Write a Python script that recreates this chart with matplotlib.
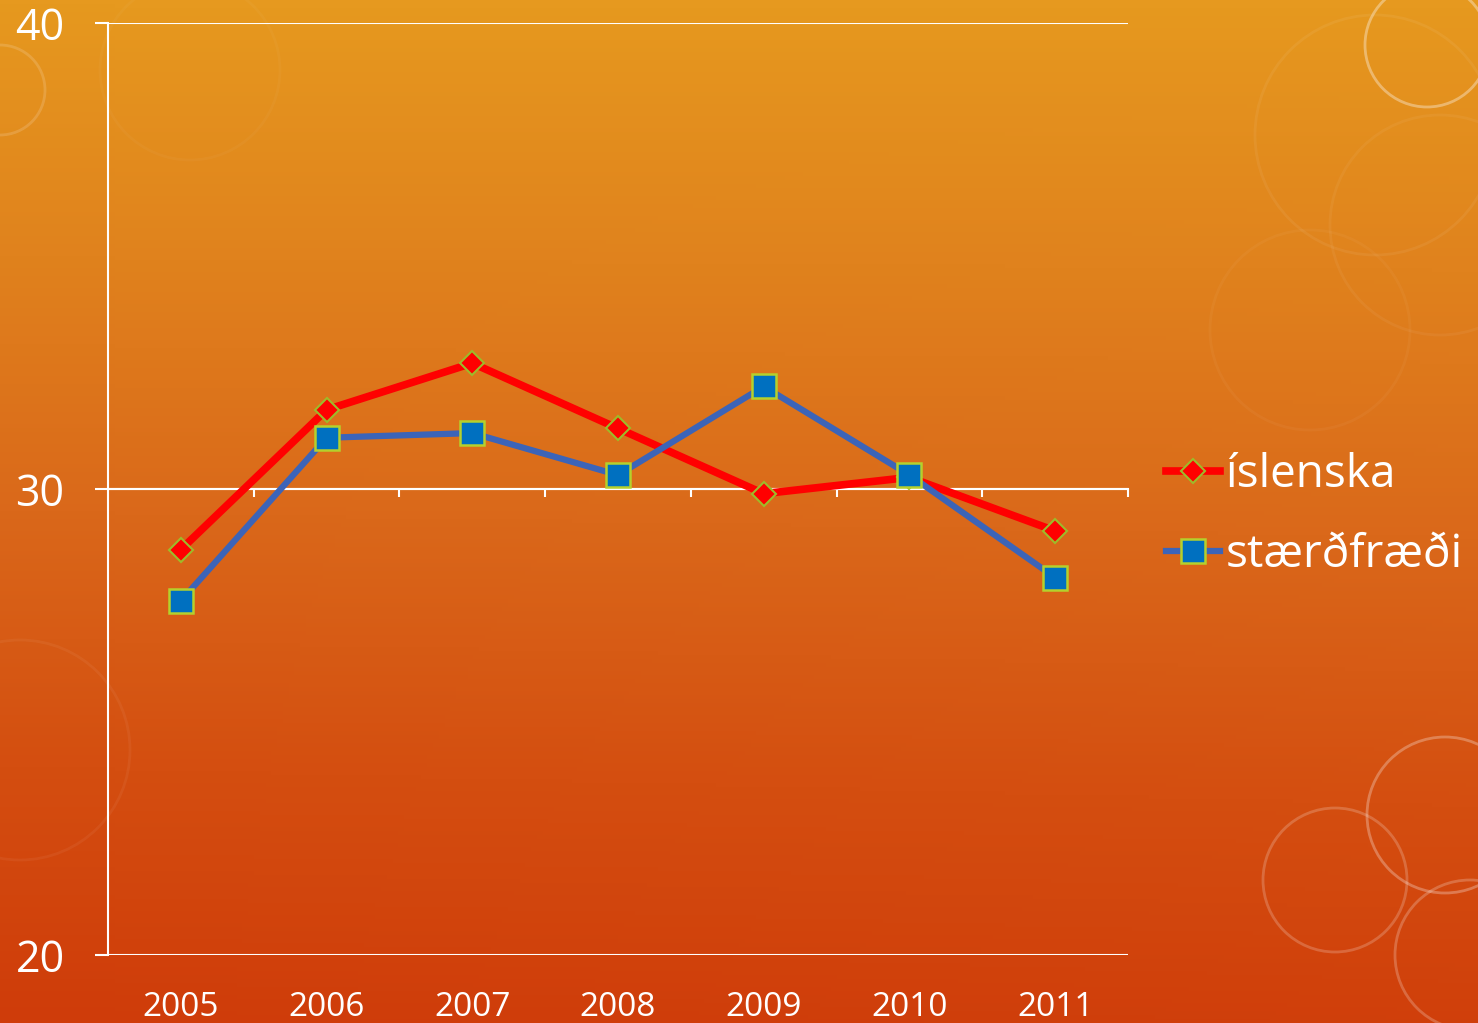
import matplotlib
matplotlib.use("Agg")
import matplotlib.pyplot as plt
import numpy as np
from matplotlib.colors import LinearSegmentedColormap
from matplotlib.patches import Circle

# data
years = ['2005', '2006', '2007', '2008', '2009', '2010', '2011']
islenska = [28.7, 31.7, 32.7, 31.3, 29.9, 30.25, 29.1]
staerdfraedi = [27.6, 31.1, 31.2, 30.3, 32.2, 30.3, 28.1]
yticks = [20, 30, 40]

plt.rcParams['font.family'] = ['Open Sans', 'DejaVu Sans']

W, H = 1478, 1023
fig = plt.figure(figsize=(W / 100, H / 100), dpi=100)

# bakgrunnur - appelsinugulur halli
bg = fig.add_axes([0, 0, 1, 1], zorder=-10)
cmap = LinearSegmentedColormap.from_list('bg', ['#e6991f', '#e0821d', '#da681a', '#d44e10', '#cf3c0a'])
gy = np.linspace(0, 1, 256)[:, None]
gx = np.linspace(0, 1, 256)[None, :]
grad = gy * 0.95 + 0.05 * (1 - gx) * gy
bg.imshow(grad, cmap=cmap, aspect='auto', extent=[0, W, H, 0], vmin=0, vmax=1)
bg.set_xlim(0, W)
bg.set_ylim(H, 0)
bg.axis('off')
# daufir hringir
for cx, cy, r, a in [(1427, 45, 62, 0.35), (1375, 135, 120, 0.06), (1440, 225, 110, 0.05),
                     (1310, 330, 100, 0.04), (1445, 815, 78, 0.28), (1335, 880, 72, 0.2),
                     (1470, 955, 75, 0.22), (0, 90, 45, 0.15), (20, 750, 110, 0.05),
                     (190, 70, 90, 0.03)]:
    bg.add_patch(Circle((cx, cy), r, fill=False, edgecolor='white', alpha=a, lw=2))

ax = fig.add_axes([108 / W, (H - 955) / H, (1128 - 108) / W, (955 - 23) / H])
ax.patch.set_alpha(0)
x = np.arange(len(years))

ax.plot(x, islenska, color='#ff0000', lw=5.5, marker='D', markersize=12,
        markerfacecolor='#ff0000', markeredgecolor='#9dbb2a', markeredgewidth=1.5,
        label='íslenska', zorder=3)
ax.plot(x, staerdfraedi, color='#3c64b8', lw=4.5, marker='s', markersize=17,
        markerfacecolor='#0070c0', markeredgecolor='#b5d02c', markeredgewidth=1.8,
        label='stærðfræði', zorder=3)

ax.set_xlim(-0.5, len(years) - 0.5)
ax.set_ylim(20, 40)
ax.set_yticks(yticks)
ax.set_yticklabels([str(v) for v in yticks], fontsize=31, color='white')
ax.tick_params(axis='y', colors='white', length=9.4, width=1.5, pad=39.6, labelcolor='white')
for t in ax.get_yticklabels():
    t.set_horizontalalignment('center')
ax.grid(axis='y', color='white', lw=1.5)
ax.set_axisbelow(True)

for s in ['top', 'right']:
    ax.spines[s].set_visible(False)
ax.spines['left'].set_color('white')
ax.spines['left'].set_linewidth(1.5)
# flokkaás liggur í 30
ax.spines['bottom'].set_position(('data', 30))
ax.spines['bottom'].set_color('white')
ax.spines['bottom'].set_linewidth(1.5)
ax.set_xticks(np.arange(len(years)) + 0.5)
ax.set_xticklabels([])
ax.tick_params(axis='x', colors='white', length=6, width=1.5, direction='out')

sec = ax.secondary_xaxis(0)
sec.set_xticks(x)
sec.set_xticklabels(years, fontsize=24, color='white')
sec.tick_params(length=0, pad=26)
sec.spines['bottom'].set_visible(False)

leg = fig.legend(loc='center left', bbox_to_anchor=(1166 / W, 1 - 515 / H), frameon=False,
                 fontsize=33, labelcolor='white', handlelength=1.18, handletextpad=0.13,
                 labelspacing=0.74, borderpad=0, borderaxespad=0)

plt.savefig('out.png', dpi=100)
